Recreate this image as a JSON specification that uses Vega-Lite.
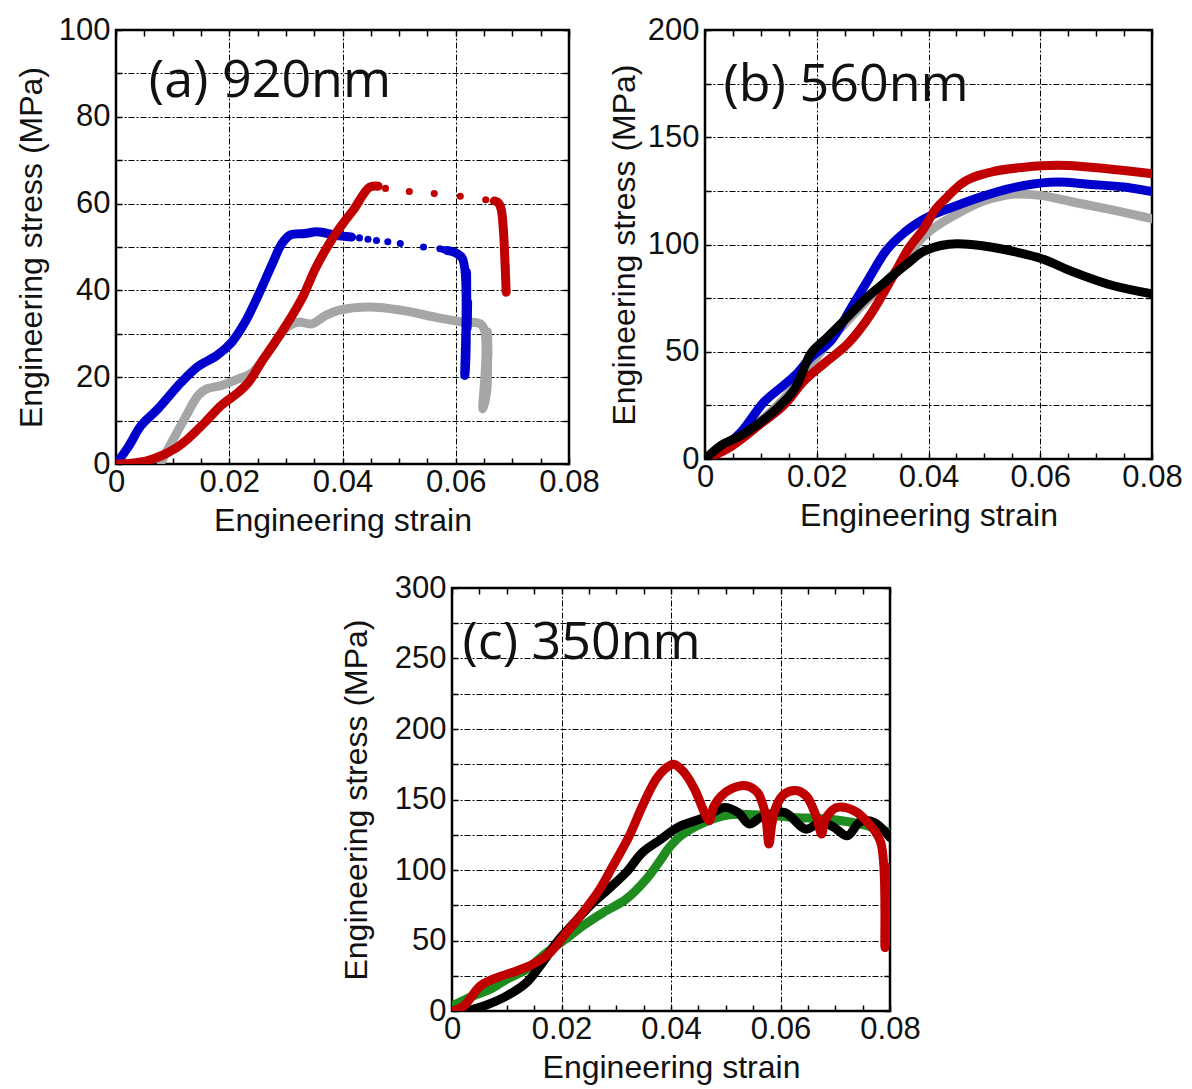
{
 "$schema": "https://vega.github.io/schema/vega-lite/v6.json",
 "background": "white",
 "padding": {"left": 14, "top": 12, "right": 5, "bottom": 0},
 "spacing": 32,
 "config": {
  "view": {"stroke": "#000", "strokeWidth": 2.5},
  "axis": {"labelFont": "Liberation Sans", "labelFontSize": 31, "labelColor": "#111", "titleFont": "Liberation Sans", "titleFontSize": 32, "titleFontWeight": "normal", "titleColor": "#111", "tickColor": "#000", "tickWidth": 1.5, "tickSize": -6, "domain": false, "gridColor": "#000", "gridDash": [6, 2, 2, 2], "gridWidth": 1, "labelFlush": false, "labelOverlap": false},
  "axisX": {"labelPadding": 9, "titlePadding": 8},
  "axisY": {"labelPadding": 12, "titlePadding": 10}
 },
 "datasets": {
  "a": [
   {"x":0.008,"y":0.5,"s":"gray","k":"l","g":1},{"x":0.0095,"y":4.2,"s":"gray","k":"l","g":1},{"x":0.0121,"y":10.4,"s":"gray","k":"l","g":1},{"x":0.0145,"y":15.8,"s":"gray","k":"l","g":1},{"x":0.016,"y":17.3,"s":"gray","k":"l","g":1},{"x":0.0186,"y":18.1,"s":"gray","k":"l","g":1},{"x":0.0216,"y":19.6,"s":"gray","k":"l","g":1},{"x":0.024,"y":21,"s":"gray","k":"l","g":1},{"x":0.027,"y":26,"s":"gray","k":"l","g":1},{"x":0.0302,"y":31.5,"s":"gray","k":"l","g":1},{"x":0.0322,"y":32.7,"s":"gray","k":"l","g":1},{"x":0.0346,"y":32.3,"s":"gray","k":"l","g":1},{"x":0.037,"y":34.2,"s":"gray","k":"l","g":1},{"x":0.0393,"y":35.4,"s":"gray","k":"l","g":1},{"x":0.0448,"y":36.2,"s":"gray","k":"l","g":1},{"x":0.0506,"y":35.4,"s":"gray","k":"l","g":1},{"x":0.0565,"y":33.8,"s":"gray","k":"l","g":1},{"x":0.0612,"y":32.7,"s":"gray","k":"l","g":1},{"x":0.0647,"y":31.9,"s":"gray","k":"l","g":1},{"x":0.0656,"y":30.4,"s":"gray","k":"l","g":1},{"x":0.0657,"y":25,"s":"gray","k":"l","g":1},{"x":0.0655,"y":17.3,"s":"gray","k":"l","g":1},{"x":0.0648,"y":12.7,"s":"gray","k":"l","g":1},
   {"x":0,"y":0,"s":"blue","k":"l","g":1},{"x":0.0022,"y":4,"s":"blue","k":"l","g":1},{"x":0.0044,"y":8.8,"s":"blue","k":"l","g":1},{"x":0.0074,"y":12.7,"s":"blue","k":"l","g":1},{"x":0.0115,"y":18.8,"s":"blue","k":"l","g":1},{"x":0.0145,"y":22.5,"s":"blue","k":"l","g":1},{"x":0.0178,"y":25,"s":"blue","k":"l","g":1},{"x":0.0204,"y":28,"s":"blue","k":"l","g":1},{"x":0.0228,"y":32.7,"s":"blue","k":"l","g":1},{"x":0.0251,"y":38.8,"s":"blue","k":"l","g":1},{"x":0.0275,"y":45.8,"s":"blue","k":"l","g":1},{"x":0.0293,"y":50.8,"s":"blue","k":"l","g":1},{"x":0.0308,"y":52.8,"s":"blue","k":"l","g":1},{"x":0.0334,"y":53.1,"s":"blue","k":"l","g":1},{"x":0.0355,"y":53.5,"s":"blue","k":"l","g":1},{"x":0.0388,"y":52.7,"s":"blue","k":"l","g":1},{"x":0.04,"y":52.5,"s":"blue","k":"l","g":1},{"x":0.0416,"y":52.3,"s":"blue","k":"l","g":1},
   {"x":0.0585,"y":49.2,"s":"blue","k":"l","g":2},{"x":0.0597,"y":48.8,"s":"blue","k":"l","g":2},{"x":0.0612,"y":47.3,"s":"blue","k":"l","g":2},{"x":0.0619,"y":44.2,"s":"blue","k":"l","g":2},{"x":0.0621,"y":37.3,"s":"blue","k":"l","g":2},{"x":0.062,"y":31.2,"s":"blue","k":"l","g":2},{"x":0.0618,"y":25,"s":"blue","k":"l","g":2},{"x":0.0616,"y":20.4,"s":"blue","k":"l","g":2},
   {"x":0,"y":0,"s":"red","k":"l","g":1},{"x":0.0027,"y":0.2,"s":"red","k":"l","g":1},{"x":0.0056,"y":0.8,"s":"red","k":"l","g":1},{"x":0.008,"y":1.9,"s":"red","k":"l","g":1},{"x":0.0104,"y":3.5,"s":"red","k":"l","g":1},{"x":0.0127,"y":5.8,"s":"red","k":"l","g":1},{"x":0.0157,"y":9.6,"s":"red","k":"l","g":1},{"x":0.0186,"y":13.5,"s":"red","k":"l","g":1},{"x":0.0216,"y":16.5,"s":"red","k":"l","g":1},{"x":0.0234,"y":18.8,"s":"red","k":"l","g":1},{"x":0.0257,"y":23.5,"s":"red","k":"l","g":1},{"x":0.0281,"y":28.1,"s":"red","k":"l","g":1},{"x":0.0311,"y":34.2,"s":"red","k":"l","g":1},{"x":0.0331,"y":38.8,"s":"red","k":"l","g":1},{"x":0.0352,"y":45,"s":"red","k":"l","g":1},{"x":0.0382,"y":51.9,"s":"red","k":"l","g":1},{"x":0.0403,"y":55.8,"s":"red","k":"l","g":1},{"x":0.0419,"y":58.5,"s":"red","k":"l","g":1},{"x":0.0448,"y":63.8,"s":"red","k":"l","g":1},{"x":0.0463,"y":64,"s":"red","k":"l","g":1},
   {"x":0.0668,"y":60.6,"s":"red","k":"l","g":2},{"x":0.0675,"y":60.2,"s":"red","k":"l","g":2},{"x":0.068,"y":58.8,"s":"red","k":"l","g":2},{"x":0.0684,"y":54.2,"s":"red","k":"l","g":2},{"x":0.0687,"y":46.5,"s":"red","k":"l","g":2},{"x":0.0689,"y":39.6,"s":"red","k":"l","g":2},
   {"x":0.043,"y":52.1,"s":"blue","k":"d","g":0},{"x":0.0445,"y":51.8,"s":"blue","k":"d","g":0},{"x":0.046,"y":51.5,"s":"blue","k":"d","g":0},{"x":0.048,"y":51.2,"s":"blue","k":"d","g":0},{"x":0.0502,"y":50.8,"s":"blue","k":"d","g":0},{"x":0.0543,"y":50,"s":"blue","k":"d","g":0},{"x":0.0572,"y":49.6,"s":"blue","k":"d","g":0},{"x":0.0578,"y":49.4,"s":"blue","k":"d","g":0},
   {"x":0.0476,"y":63.5,"s":"red","k":"d","g":0},{"x":0.0518,"y":62.8,"s":"red","k":"d","g":0},{"x":0.0562,"y":62.3,"s":"red","k":"d","g":0},{"x":0.0608,"y":61.7,"s":"red","k":"d","g":0},{"x":0.0653,"y":60.9,"s":"red","k":"d","g":0}
  ],
  "b": [
   {"x":0,"y":0,"s":"gray"},{"x":0.0064,"y":11.7,"s":"gray"},{"x":0.0105,"y":19,"s":"gray"},{"x":0.0158,"y":33,"s":"gray"},{"x":0.0216,"y":52.9,"s":"gray"},{"x":0.0275,"y":70,"s":"gray"},{"x":0.0334,"y":85.5,"s":"gray"},{"x":0.0393,"y":104.2,"s":"gray"},{"x":0.0451,"y":114.3,"s":"gray"},{"x":0.0511,"y":121.3,"s":"gray"},{"x":0.0559,"y":123.6,"s":"gray"},{"x":0.06,"y":122.9,"s":"gray"},{"x":0.066,"y":119.7,"s":"gray"},{"x":0.072,"y":116.6,"s":"gray"},{"x":0.08,"y":112,"s":"gray"},
   {"x":0,"y":0,"s":"blue"},{"x":0.0064,"y":12.4,"s":"blue"},{"x":0.0105,"y":26.4,"s":"blue"},{"x":0.014,"y":34.2,"s":"blue"},{"x":0.0164,"y":39.7,"s":"blue"},{"x":0.0187,"y":46.7,"s":"blue"},{"x":0.0228,"y":56,"s":"blue"},{"x":0.0264,"y":71.5,"s":"blue"},{"x":0.0293,"y":84,"s":"blue"},{"x":0.0322,"y":96.4,"s":"blue"},{"x":0.0358,"y":105.8,"s":"blue"},{"x":0.0393,"y":112,"s":"blue"},{"x":0.0451,"y":118.2,"s":"blue"},{"x":0.0511,"y":123.6,"s":"blue"},{"x":0.0571,"y":127.5,"s":"blue"},{"x":0.0631,"y":129.1,"s":"blue"},{"x":0.069,"y":128,"s":"blue"},{"x":0.075,"y":126.8,"s":"blue"},{"x":0.08,"y":124.7,"s":"blue"},
   {"x":0,"y":0,"s":"red"},{"x":0.004,"y":4.7,"s":"red"},{"x":0.0099,"y":16.3,"s":"red"},{"x":0.0146,"y":26.4,"s":"red"},{"x":0.0175,"y":35.8,"s":"red"},{"x":0.0216,"y":45.1,"s":"red"},{"x":0.0258,"y":54.4,"s":"red"},{"x":0.0299,"y":68.4,"s":"red"},{"x":0.0334,"y":84,"s":"red"},{"x":0.0364,"y":98,"s":"red"},{"x":0.0393,"y":108,"s":"red"},{"x":0.041,"y":115.5,"s":"red"},{"x":0.0433,"y":122,"s":"red"},{"x":0.0457,"y":128,"s":"red"},{"x":0.0511,"y":133.7,"s":"red"},{"x":0.0571,"y":136,"s":"red"},{"x":0.0631,"y":136.9,"s":"red"},{"x":0.069,"y":136,"s":"red"},{"x":0.075,"y":134.5,"s":"red"},{"x":0.08,"y":133,"s":"red"},
   {"x":0,"y":0,"s":"black"},{"x":0.0028,"y":6.2,"s":"black"},{"x":0.0064,"y":10.9,"s":"black"},{"x":0.0099,"y":17.1,"s":"black"},{"x":0.0134,"y":24.9,"s":"black"},{"x":0.0164,"y":34.2,"s":"black"},{"x":0.0187,"y":48.2,"s":"black"},{"x":0.0216,"y":56,"s":"black"},{"x":0.0252,"y":65.3,"s":"black"},{"x":0.0287,"y":74.6,"s":"black"},{"x":0.0322,"y":82.4,"s":"black"},{"x":0.0358,"y":90.2,"s":"black"},{"x":0.0393,"y":97,"s":"black"},{"x":0.0451,"y":100.3,"s":"black"},{"x":0.0511,"y":98.8,"s":"black"},{"x":0.0571,"y":95.6,"s":"black"},{"x":0.06,"y":93.6,"s":"black"},{"x":0.066,"y":87.1,"s":"black"},{"x":0.072,"y":81.6,"s":"black"},{"x":0.08,"y":77,"s":"black"}
  ],
  "c": [
   {"x":0,"y":3.5,"s":"green"},{"x":0.0039,"y":10.7,"s":"green"},{"x":0.007,"y":15.4,"s":"green"},{"x":0.01,"y":22.5,"s":"green"},{"x":0.0136,"y":29.6,"s":"green"},{"x":0.0173,"y":41.4,"s":"green"},{"x":0.0203,"y":49.7,"s":"green"},{"x":0.0239,"y":60.4,"s":"green"},{"x":0.0276,"y":69.8,"s":"green"},{"x":0.0318,"y":79.3,"s":"green"},{"x":0.0355,"y":93.5,"s":"green"},{"x":0.0382,"y":107.7,"s":"green"},{"x":0.0397,"y":116,"s":"green"},{"x":0.0418,"y":124.3,"s":"green"},{"x":0.0461,"y":133.8,"s":"green"},{"x":0.0503,"y":139,"s":"green"},{"x":0.0564,"y":139,"s":"green"},{"x":0.0625,"y":137.3,"s":"green"},{"x":0.0686,"y":136.1,"s":"green"},{"x":0.0746,"y":132.6,"s":"green"},{"x":0.08,"y":126.7,"s":"green"},
   {"x":0.0027,"y":0,"s":"black"},{"x":0.0058,"y":3.5,"s":"black"},{"x":0.01,"y":10.7,"s":"black"},{"x":0.0136,"y":20.1,"s":"black"},{"x":0.0161,"y":32,"s":"black"},{"x":0.0191,"y":48.5,"s":"black"},{"x":0.0221,"y":61.6,"s":"black"},{"x":0.0252,"y":74.6,"s":"black"},{"x":0.0282,"y":85.2,"s":"black"},{"x":0.0318,"y":98.2,"s":"black"},{"x":0.0348,"y":112.5,"s":"black"},{"x":0.0382,"y":121.9,"s":"black"},{"x":0.0412,"y":130.2,"s":"black"},{"x":0.0461,"y":137.3,"s":"black"},{"x":0.0497,"y":144.4,"s":"black"},{"x":0.0522,"y":140.9,"s":"black"},{"x":0.0543,"y":132.6,"s":"black"},{"x":0.0564,"y":137.3,"s":"black"},{"x":0.0607,"y":140.9,"s":"black"},{"x":0.0646,"y":129,"s":"black"},{"x":0.0674,"y":133.8,"s":"black"},{"x":0.0698,"y":130.2,"s":"black"},{"x":0.0722,"y":124.3,"s":"black"},{"x":0.0746,"y":134.3,"s":"black"},{"x":0.0771,"y":133.8,"s":"black"},{"x":0.08,"y":123.1,"s":"black"},
   {"x":0,"y":0,"s":"red"},{"x":0.0021,"y":3.5,"s":"red"},{"x":0.0052,"y":17.8,"s":"red"},{"x":0.0082,"y":23.7,"s":"red"},{"x":0.0118,"y":28.4,"s":"red"},{"x":0.0148,"y":33.1,"s":"red"},{"x":0.0179,"y":41.4,"s":"red"},{"x":0.0209,"y":55.6,"s":"red"},{"x":0.0239,"y":69.8,"s":"red"},{"x":0.027,"y":86.4,"s":"red"},{"x":0.0294,"y":103,"s":"red"},{"x":0.0324,"y":124.3,"s":"red"},{"x":0.0348,"y":145.6,"s":"red"},{"x":0.0373,"y":164.5,"s":"red"},{"x":0.039,"y":172,"s":"red"},{"x":0.0405,"y":175,"s":"red"},{"x":0.0424,"y":169.2,"s":"red"},{"x":0.0443,"y":157.4,"s":"red"},{"x":0.0461,"y":140.9,"s":"red"},{"x":0.047,"y":135,"s":"red"},{"x":0.0478,"y":145,"s":"red"},{"x":0.0492,"y":152.5,"s":"red"},{"x":0.0509,"y":157.4,"s":"red"},{"x":0.0537,"y":159.8,"s":"red"},{"x":0.0558,"y":155,"s":"red"},{"x":0.0568,"y":146,"s":"red"},{"x":0.0573,"y":138.5,"s":"red"},{"x":0.0579,"y":118.4,"s":"red"},{"x":0.0584,"y":132,"s":"red"},{"x":0.0592,"y":145,"s":"red"},{"x":0.0607,"y":153.9,"s":"red"},{"x":0.0631,"y":156.2,"s":"red"},{"x":0.0648,"y":152,"s":"red"},{"x":0.0658,"y":145,"s":"red"},{"x":0.0667,"y":136.1,"s":"red"},{"x":0.0675,"y":125.5,"s":"red"},{"x":0.0681,"y":135,"s":"red"},{"x":0.0692,"y":141.5,"s":"red"},{"x":0.0704,"y":144.4,"s":"red"},{"x":0.0734,"y":142.1,"s":"red"},{"x":0.0759,"y":133.8,"s":"red"},{"x":0.0783,"y":119.6,"s":"red"},{"x":0.0795,"y":102,"s":"red"},{"x":0.08,"y":82,"s":"red"},{"x":0.0798,"y":62,"s":"red"},{"x":0.0791,"y":45,"s":"red"}
  ]
 },
 "vconcat": [
  {
   "spacing": 6,
   "hconcat": [
    {
     "width": 453, "height": 434,
     "data": {"name": "a"},
     "resolve": {"axis": {"x": "independent", "y": "independent"}},
     "layer": [
      {
       "transform": [{"filter": "datum.k == 'l'"}],
       "mark": {"type": "line", "strokeWidth": 9, "strokeCap": "round", "strokeJoin": "round", "clip": true, "interpolate": "catmull-rom"},
       "encoding": {
        "x": {"field": "x", "type": "quantitative", "scale": {"domain": [0, 0.08], "nice": false, "zero": false},
         "axis": {"title": "Engineering strain", "values": [0,0.005,0.01,0.015,0.02,0.025,0.03,0.035,0.04,0.045,0.05,0.055,0.06,0.065,0.07,0.075,0.08], "format": "~r", "labelExpr": "abs(datum.value*50 - round(datum.value*50)) < 0.001 ? datum.label : ''", "grid": true, "gridOpacity": {"condition": {"test": "abs(datum.value*50 - round(datum.value*50)) < 0.001 && datum.value > 0.001 && datum.value < 0.079", "value": 1}, "value": 0}}},
        "y": {"field": "y", "type": "quantitative", "scale": {"domain": [0, 100], "nice": false, "zero": false},
         "axis": {"title": "Engineering stress (MPa)", "values": [0,10,20,30,40,50,60,70,80,90,100], "format": "~r", "labelExpr": "datum.value % 20 == 0 ? datum.label : ''", "grid": true}},
        "color": {"field": "s", "type": "nominal", "legend": null, "scale": {"domain": ["gray","blue","red","black","green"], "range": ["#a6a6a6","#0000cc","#c00000","#000000","#1e8c1e"]}},
        "detail": {"field": "g", "type": "nominal"}
       }
      },
      {
       "transform": [{"filter": "datum.k == 'd'"}],
       "mark": {"type": "circle", "size": 50, "opacity": 1},
       "encoding": {
        "x": {"field": "x", "type": "quantitative", "axis": null},
        "y": {"field": "y", "type": "quantitative", "axis": null},
        "color": {"field": "s", "type": "nominal", "legend": null, "scale": {"domain": ["gray","blue","red","black","green"], "range": ["#a6a6a6","#0000cc","#c00000","#000000","#1e8c1e"]}}
       }
      },
      {
       "data": {"values": [{}]},
       "mark": {"type": "text", "text": "(a) 920nm", "font": "Open Sans", "fontSize": 52, "align": "left", "baseline": "alphabetic", "color": "#111"},
       "encoding": {
        "x": {"datum": 0.0058, "type": "quantitative", "axis": {"orient": "top", "values": [0,0.005,0.01,0.015,0.02,0.025,0.03,0.035,0.04,0.045,0.05,0.055,0.06,0.065,0.07,0.075,0.08], "labels": false, "grid": false, "title": null}},
        "y": {"datum": 84.5, "type": "quantitative", "axis": {"orient": "right", "values": [0,10,20,30,40,50,60,70,80,90,100], "labels": false, "grid": false, "title": null}}
       }
      }
     ]
    },
    {
     "width": 447, "height": 429,
     "data": {"name": "b"},
     "resolve": {"axis": {"x": "independent", "y": "independent"}},
     "layer": [
      {
       "mark": {"type": "line", "strokeWidth": 9, "strokeCap": "round", "strokeJoin": "round", "clip": true, "interpolate": "monotone"},
       "encoding": {
        "x": {"field": "x", "type": "quantitative", "scale": {"domain": [0, 0.08], "nice": false, "zero": false},
         "axis": {"title": "Engineering strain", "values": [0,0.005,0.01,0.015,0.02,0.025,0.03,0.035,0.04,0.045,0.05,0.055,0.06,0.065,0.07,0.075,0.08], "format": "~r", "labelExpr": "abs(datum.value*50 - round(datum.value*50)) < 0.001 ? datum.label : ''", "grid": true, "gridOpacity": {"condition": {"test": "abs(datum.value*50 - round(datum.value*50)) < 0.001 && datum.value > 0.001 && datum.value < 0.079", "value": 1}, "value": 0}}},
        "y": {"field": "y", "type": "quantitative", "scale": {"domain": [0, 200], "nice": false, "zero": false},
         "axis": {"title": "Engineering stress (MPa)", "titlePadding": 6, "values": [0,25,50,75,100,125,150,175,200], "format": "~r", "labelExpr": "datum.value % 50 == 0 ? datum.label : ''", "grid": true}},
        "color": {"field": "s", "type": "nominal", "legend": null, "scale": {"domain": ["gray","blue","red","black","green"], "range": ["#a6a6a6","#0000cc","#c00000","#000000","#1e8c1e"]}}
       }
      },
      {
       "data": {"values": [{}]},
       "mark": {"type": "text", "text": "(b) 560nm", "font": "Open Sans", "fontSize": 52, "align": "left", "baseline": "alphabetic", "color": "#111"},
       "encoding": {
        "x": {"datum": 0.0033, "type": "quantitative", "axis": {"orient": "top", "values": [0,0.005,0.01,0.015,0.02,0.025,0.03,0.035,0.04,0.045,0.05,0.055,0.06,0.065,0.07,0.075,0.08], "labels": false, "grid": false, "title": null}},
        "y": {"datum": 167, "type": "quantitative", "axis": {"orient": "right", "values": [0,25,50,75,100,125,150,175,200], "labels": false, "grid": false, "title": null}}
       }
      }
     ]
    }
   ]
  },
  {
   "spacing": 10,
   "align": "none",
   "hconcat": [
    {"width": 213, "height": 10, "data": {"values": []}, "mark": "point", "view": {"stroke": null}},
    {
     "width": 438, "height": 423,
     "data": {"name": "c"},
     "resolve": {"axis": {"x": "independent", "y": "independent"}},
     "layer": [
      {
       "mark": {"type": "line", "strokeWidth": 9, "strokeCap": "round", "strokeJoin": "round", "clip": true, "interpolate": "catmull-rom"},
       "encoding": {
        "x": {"field": "x", "type": "quantitative", "scale": {"domain": [0, 0.08], "nice": false, "zero": false},
         "axis": {"title": "Engineering strain", "values": [0,0.005,0.01,0.015,0.02,0.025,0.03,0.035,0.04,0.045,0.05,0.055,0.06,0.065,0.07,0.075,0.08], "format": "~r", "labelExpr": "abs(datum.value*50 - round(datum.value*50)) < 0.001 ? datum.label : ''", "grid": true, "gridOpacity": {"condition": {"test": "abs(datum.value*50 - round(datum.value*50)) < 0.001 && datum.value > 0.001 && datum.value < 0.079", "value": 1}, "value": 0}}},
        "y": {"field": "y", "type": "quantitative", "scale": {"domain": [0, 300], "nice": false, "zero": false},
         "axis": {"title": "Engineering stress (MPa)", "titlePadding": 21, "values": [0,25,50,75,100,125,150,175,200,225,250,275,300], "format": "~r", "labelExpr": "datum.value % 50 == 0 ? datum.label : ''", "grid": true}},
        "color": {"field": "s", "type": "nominal", "legend": null, "scale": {"domain": ["gray","blue","red","black","green"], "range": ["#a6a6a6","#0000cc","#c00000","#000000","#1e8c1e"]}}
       }
      },
      {
       "data": {"values": [{}]},
       "mark": {"type": "text", "text": "(c) 350nm", "font": "Open Sans", "fontSize": 52, "align": "left", "baseline": "alphabetic", "color": "#111"},
       "encoding": {
        "x": {"datum": 0.0019, "type": "quantitative", "axis": {"orient": "top", "values": [0,0.005,0.01,0.015,0.02,0.025,0.03,0.035,0.04,0.045,0.05,0.055,0.06,0.065,0.07,0.075,0.08], "labels": false, "grid": false, "title": null}},
        "y": {"datum": 250, "type": "quantitative", "axis": {"orient": "right", "values": [0,25,50,75,100,125,150,175,200,225,250,275,300], "labels": false, "grid": false, "title": null}}
       }
      }
     ]
    }
   ]
  }
 ]
}
